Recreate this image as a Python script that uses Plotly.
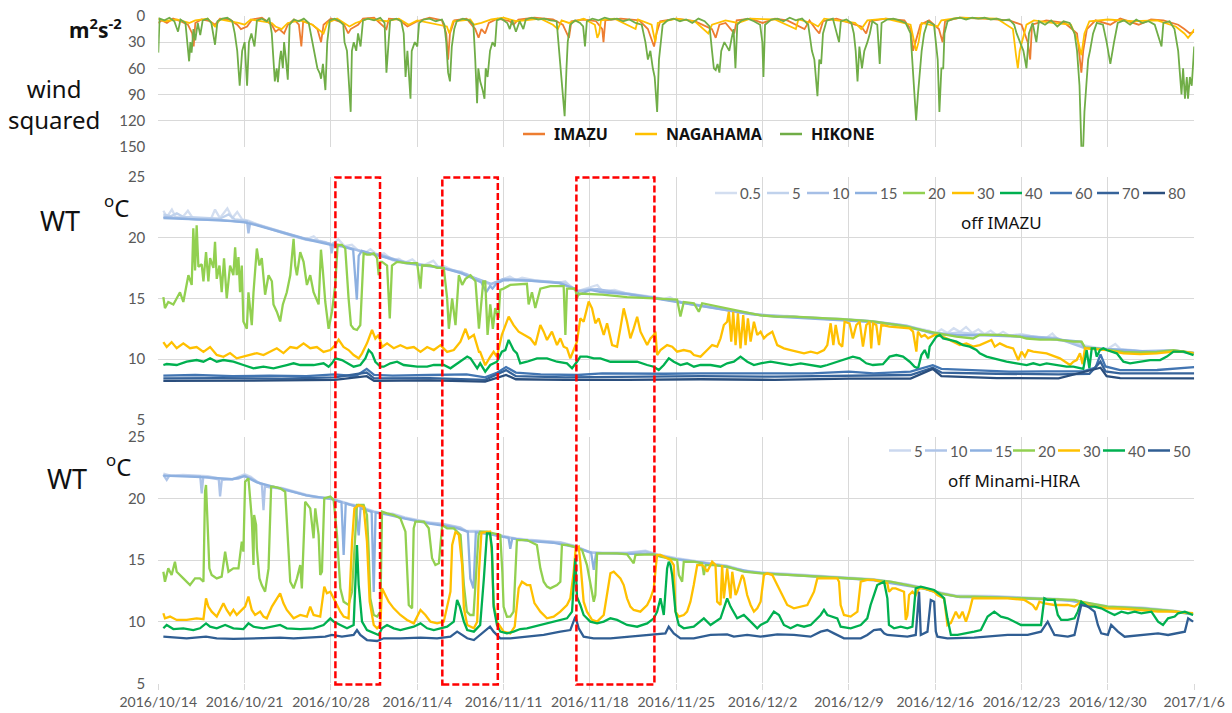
import pandas as pd
import plotly.graph_objects as go

W, H = 1232, 713
START = pd.Timestamp("2016-10-14")
END = pd.Timestamp("2017-01-06")

# ---------------------------------------------------------------------------
# Wind squared (m2 s-2), (days since 2016/10/14 00:00, value)
# ---------------------------------------------------------------------------
IMAZU = [(0.0, 8), (0.3, 5), (0.7, 8), (1.2, 3), (1.8, 6), (2.4, 10), (2.75, 20), (2.87, 35), (3.0, 8), (3.5, 4),
         (4.2, 6), (4.6, 10), (5.0, 3), (5.8, 4), (6.4, 10), (6.7, 15), (7.2, 12), (7.6, 4), (8.4, 2), (9.2, 10),
         (9.5, 18), (9.8, 15), (10.2, 20), (10.5, 10), (11.0, 4), (11.4, 10), (11.6, 35), (11.75, 6), (12.5, 10),
         (12.9, 15), (13.2, 30), (13.4, 10), (14.0, 3), (15.0, 8), (15.4, 20), (15.6, 15), (16.2, 10), (16.6, 3),
         (17.5, 2), (18.5, 15), (18.7, 3), (19.5, 4), (20.2, 12), (20.5, 10), (21.0, 6), (22.0, 2), (23.0, 5),
         (23.35, 20), (23.5, 50), (23.65, 20), (24.0, 5), (25.0, 3), (25.7, 15), (25.97, 25), (26.2, 15), (26.5, 20),
         (26.8, 8), (27.5, 3), (28.5, 6), (28.8, 10), (29.2, 4), (30.5, 2), (32.0, 4), (32.8, 10), (33.3, 25),
         (33.5, 6), (34.5, 4), (35.5, 6), (36.0, 15), (36.1, 30), (36.25, 5), (37.5, 3), (39.0, 5), (39.7, 15),
         (40.2, 35), (40.4, 20), (40.7, 6), (42.0, 3), (43.5, 6), (44.9, 15), (45.2, 25), (45.5, 10), (46.0, 8),
         (46.7, 20), (46.9, 5), (48.0, 3), (49.0, 8), (50.0, 3), (51.0, 5), (52.4, 15), (52.8, 5), (53.3, 15),
         (53.6, 20), (53.9, 6), (55.0, 3), (56.5, 10), (57.0, 12), (57.4, 20), (57.7, 6), (59.0, 3), (60.5, 5),
         (61.0, 15), (61.2, 40), (61.5, 25), (61.8, 10), (62.5, 5), (63.3, 15), (63.6, 30), (63.8, 6), (65.0, 2),
         (67.0, 3), (69.0, 5), (70.0, 10), (70.5, 30), (70.7, 50), (70.85, 10), (72.0, 5), (73.5, 8), (74.5, 20),
         (74.85, 65), (75.0, 40), (75.3, 15), (76.0, 5), (77.2, 10), (78.0, 3), (79.5, 10), (80.5, 4), (81.5, 5),
         (82.7, 10), (83.2, 15), (83.65, 20), (84.0, 18)]

NAGAHAMA = [(0.0, 3), (0.5, 6), (1.5, 4), (2.5, 8), (3.0, 5), (4.0, 3), (4.6, 12), (5.0, 4), (6.5, 8), (7.0, 10),
            (7.5, 4), (9.2, 8), (9.5, 12), (10.0, 15), (10.5, 8), (11.5, 5), (12.5, 10), (13.0, 15), (13.4, 20),
            (13.7, 8), (14.5, 3), (15.5, 12), (16.0, 8), (17.0, 3), (18.5, 6), (19.5, 3), (20.3, 10), (21.0, 5),
            (23.4, 12), (23.6, 20), (23.9, 6), (25.3, 4), (25.6, 10), (26.2, 8), (27.0, 4), (28.0, 2), (29.0, 6),
            (31.0, 3), (32.0, 10), (32.4, 15), (32.7, 5), (33.3, 8), (34.5, 3), (35.4, 10), (35.6, 25), (35.75, 20),
            (35.9, 5), (37.0, 3), (38.7, 15), (38.9, 4), (40.0, 10), (40.3, 30), (40.5, 8), (42.0, 3), (43.5, 6),
            (44.6, 20), (44.9, 10), (46.0, 5), (47.0, 8), (48.0, 3), (50.0, 4), (51.7, 15), (51.9, 4), (53.0, 8),
            (53.5, 12), (54.0, 3), (56.5, 8), (57.0, 15), (57.5, 5), (59.0, 3), (61.0, 10), (61.45, 40), (61.65, 30),
            (61.9, 8), (63.2, 12), (63.5, 5), (65.0, 2), (68.0, 3), (69.3, 15), (69.55, 45), (69.7, 60), (69.85, 40),
            (70.1, 25), (70.4, 10), (71.0, 5), (72.5, 8), (74.0, 10), (74.6, 30), (74.85, 45), (75.1, 20), (75.5, 6),
            (77.0, 4), (79.0, 6), (81.0, 5), (82.5, 12), (83.2, 20), (83.5, 25), (83.8, 20), (84.0, 15)]

HIKONE = [(0.0, 42), (0.1, 3), (0.5, 5), (0.9, 2), (1.3, 6), (1.6, 18), (1.8, 4), (2.2, 8), (2.5, 52), (2.6, 30),
          (2.7, 42), (2.85, 15), (3.0, 28), (3.2, 8), (3.4, 22), (3.6, 5), (4.0, 3), (4.3, 8), (4.6, 33), (4.8, 6),
          (5.2, 3), (5.6, 2), (6.0, 6), (6.2, 20), (6.4, 40), (6.6, 80), (6.8, 40), (7.0, 30), (7.2, 80), (7.35, 30),
          (7.55, 20), (7.8, 35), (8.0, 5), (8.4, 3), (8.8, 6), (9.0, 2), (9.2, 20), (9.35, 55), (9.45, 75), (9.6, 60),
          (9.7, 76), (9.85, 50), (9.95, 40), (10.1, 60), (10.2, 30), (10.35, 50), (10.5, 73), (10.65, 10), (11.0, 4),
          (11.4, 6), (11.8, 3), (12.2, 8), (12.5, 30), (12.65, 45), (12.9, 60), (13.1, 66), (13.2, 72), (13.35, 55),
          (13.55, 85), (13.7, 30), (13.9, 5), (14.3, 3), (14.7, 6), (15.0, 10), (15.1, 30), (15.3, 40), (15.4, 60),
          (15.6, 110), (15.7, 40), (15.85, 30), (16.05, 40), (16.2, 20), (16.4, 35), (16.6, 5), (17.0, 3), (17.5, 5),
          (18.0, 2), (18.35, 8), (18.5, 65), (18.65, 30), (18.8, 5), (19.3, 3), (19.7, 6), (19.9, 20), (20.05, 70),
          (20.2, 40), (20.45, 95), (20.55, 40), (20.8, 30), (21.0, 35), (21.15, 8), (21.5, 4), (22.0, 3), (22.5, 6),
          (23.0, 4), (23.2, 10), (23.35, 30), (23.5, 65), (23.65, 75), (23.8, 35), (24.0, 15), (24.2, 6), (24.7, 3),
          (25.2, 5), (25.55, 10), (25.7, 50), (25.85, 100), (25.95, 60), (26.1, 75), (26.3, 85), (26.45, 95),
          (26.55, 60), (26.7, 70), (26.9, 40), (27.1, 30), (27.3, 35), (27.45, 5), (27.8, 3), (28.3, 8), (28.5, 15),
          (28.7, 5), (29.0, 18), (29.3, 6), (29.6, 15), (29.8, 4), (30.3, 2), (30.8, 4), (31.3, 3), (31.8, 5),
          (32.3, 6), (32.5, 40), (32.65, 60), (32.8, 95), (32.95, 115), (33.1, 60), (33.2, 30), (33.4, 10),
          (33.8, 5), (34.2, 8), (34.45, 12), (34.6, 35), (34.75, 6), (35.2, 3), (35.7, 5), (36.2, 2), (36.7, 4),
          (37.2, 3), (37.7, 6), (38.2, 4), (38.7, 8), (39.2, 10), (39.5, 30), (39.7, 50), (39.9, 40), (40.1, 60),
          (40.25, 70), (40.45, 110), (40.6, 50), (40.75, 30), (40.9, 10), (41.3, 5), (41.8, 3), (42.3, 6), (42.8, 4),
          (43.3, 8), (43.8, 3), (44.3, 6), (44.7, 12), (44.9, 40), (45.05, 60), (45.2, 62), (45.35, 55), (45.5, 65),
          (45.65, 40), (45.9, 30), (46.3, 40), (46.5, 25), (46.65, 15), (46.8, 60), (46.95, 10), (47.3, 5),
          (47.8, 3), (48.3, 6), (48.8, 10), (48.98, 30), (49.07, 70), (49.2, 10), (49.7, 4), (50.2, 3), (50.7, 6),
          (51.2, 2), (51.7, 5), (52.2, 3), (52.7, 10), (53.0, 40), (53.2, 50), (53.45, 92), (53.6, 50), (53.75, 55),
          (53.9, 20), (54.2, 5), (54.7, 3), (55.2, 30), (55.35, 6), (55.8, 4), (56.2, 8), (56.4, 20), (56.55, 40),
          (56.7, 75), (56.85, 35), (57.06, 60), (57.25, 40), (57.5, 30), (57.7, 20), (57.9, 6), (58.3, 10),
          (58.5, 55), (58.65, 8), (59.1, 4), (59.6, 3), (60.1, 5), (60.6, 8), (61.0, 20), (61.15, 50), (61.3, 80),
          (61.45, 120), (61.6, 90), (61.75, 60), (61.9, 40), (62.1, 20), (62.4, 6), (62.9, 10), (63.2, 50),
          (63.34, 110), (63.5, 60), (63.65, 60), (63.75, 20), (64.0, 6), (64.5, 3), (65.0, 2), (65.5, 4), (66.0, 2),
          (66.5, 3), (67.0, 2), (67.5, 4), (68.0, 3), (68.5, 5), (69.0, 4), (69.4, 10), (69.6, 20), (69.9, 30),
          (70.15, 40), (70.4, 60), (70.6, 20), (70.9, 8), (71.2, 30), (71.4, 6), (71.9, 10), (72.4, 5), (72.9, 12),
          (73.4, 6), (73.9, 8), (74.3, 20), (74.5, 40), (74.7, 80), (74.85, 150), (75.0, 150), (75.1, 110),
          (75.25, 80), (75.4, 50), (75.55, 40), (75.8, 20), (76.1, 8), (76.6, 10), (76.9, 30), (77.2, 55),
          (77.5, 30), (77.8, 8), (78.3, 5), (78.8, 10), (79.3, 4), (79.8, 8), (80.3, 6), (80.8, 10), (81.35, 35),
          (81.5, 8), (82.0, 6), (82.4, 15), (82.7, 40), (82.97, 90), (83.1, 60), (83.25, 95), (83.4, 70),
          (83.5, 95), (83.65, 70), (83.8, 80), (84.0, 35)]

# ---------------------------------------------------------------------------
# Water temperature off IMAZU (deg C) by depth (m)
# ---------------------------------------------------------------------------
IMZ_05 = [(0.41, 22.2), (0.7, 21.7), (1.1, 22.3), (1.4, 21.7), (2.0, 21.7), (2.4, 22.2), (2.8, 21.6), (3.5, 21.6),
          (4.3, 21.6), (4.6, 22.3), (5.0, 21.6), (5.6, 22.4), (6.0, 21.6), (6.4, 22.1), (6.8, 21.5), (7.3, 21.4),
          (8.0, 21.1), (9.0, 20.8), (10.0, 20.45), (11.0, 20.15), (12.0, 19.85), (12.6, 20.1), (13.0, 19.75),
          (13.5, 19.65), (14.0, 19.4), (14.6, 19.85), (15.1, 19.3), (15.7, 19.4), (16.2, 18.95), (16.7, 18.7),
          (17.2, 19.05), (17.8, 18.55), (18.3, 18.7), (19.0, 18.15), (19.5, 18.25), (20.0, 17.95), (20.6, 18.2),
          (21.0, 17.85), (21.6, 17.75), (22.3, 18.1), (22.7, 17.6), (23.2, 17.65), (24.0, 17.25), (24.6, 17.2),
          (25.0, 16.85), (25.5, 16.75), (26.0, 16.5), (26.5, 16.3), (27.0, 16.1), (27.5, 16.4), (28.0, 16.6),
          (28.5, 16.8), (29.0, 16.5), (29.5, 16.7), (30.5, 16.5), (31.5, 16.4), (32.5, 16.3), (33.0, 16.4),
          (33.5, 15.9), (34.0, 15.6), (34.5, 15.75), (35.0, 15.9), (35.6, 16.1), (36.0, 15.6), (37.0, 15.7),
          (38.0, 15.4), (39.0, 15.3), (40.0, 15.15), (41.0, 14.95), (41.5, 15.1), (42.0, 14.8), (43.0, 14.55),
          (44.0, 14.45), (45.0, 14.25), (46.0, 14.05), (47.0, 13.85), (48.0, 13.75), (49.0, 13.65), (50.0, 13.55),
          (51.0, 13.55), (52.0, 13.45), (53.0, 13.45), (54.0, 13.35), (55.0, 13.35), (56.0, 13.25), (57.0, 13.15),
          (58.0, 13.05), (59.0, 12.95), (60.0, 12.85), (61.0, 12.65), (62.0, 12.45), (62.5, 12.35), (63.0, 12.1),
          (63.5, 12.45), (64.0, 12.15), (64.5, 12.55), (65.0, 12.25), (65.5, 12.65), (66.0, 12.15), (66.5, 12.45),
          (67.0, 12.05), (67.5, 12.35), (68.0, 11.95), (68.5, 12.25), (69.0, 11.95), (70.0, 12.05), (71.0, 11.85),
          (72.0, 11.75), (72.5, 12.1), (73.0, 11.55), (74.0, 11.45), (75.0, 11.15), (76.0, 10.95), (77.0, 10.85),
          (77.6, 11.25), (78.0, 10.85), (79.0, 10.75), (80.0, 10.65), (81.0, 10.65), (82.0, 10.75), (83.0, 10.65),
          (84.0, 10.55)]

IMZ_5 = [(0.41, 21.9), (1.0, 21.75), (1.5, 22.0), (2.0, 21.7), (3.0, 21.65), (4.0, 21.6), (5.0, 21.55), (5.7, 21.9),
         (6.2, 21.5), (7.0, 21.4), (8.0, 21.05), (9.0, 20.75), (10.0, 20.4), (11.0, 20.1), (12.0, 19.8), (13.0, 19.7),
         (14.0, 19.45), (15.0, 19.3), (16.0, 19.0), (17.0, 18.75), (18.0, 18.55), (19.0, 18.15), (20.0, 17.95),
         (21.0, 17.8), (22.0, 17.7), (23.0, 17.55), (24.0, 17.25), (25.0, 16.9), (26.0, 16.5), (27.0, 16.15),
         (28.0, 16.55), (29.0, 16.5), (30.0, 16.5), (31.0, 16.4), (32.0, 16.35), (33.0, 16.3), (34.0, 15.6),
         (35.0, 15.8), (36.0, 15.6), (37.0, 15.6), (38.0, 15.4), (39.0, 15.25), (40.0, 15.1), (41.0, 14.95),
         (42.0, 14.75), (43.0, 14.55), (44.0, 14.4), (45.0, 14.2), (46.0, 14.05), (47.0, 13.85), (48.0, 13.7),
         (49.0, 13.6), (50.0, 13.55), (52.0, 13.45), (54.0, 13.35), (56.0, 13.25), (58.0, 13.05), (60.0, 12.8),
         (61.0, 12.6), (62.0, 12.4), (63.0, 12.15), (64.0, 12.1), (65.0, 12.2), (66.0, 12.1), (67.0, 12.05),
         (68.0, 12.0), (69.0, 11.95), (70.0, 12.0), (71.0, 11.85), (72.0, 11.75), (73.0, 11.6), (74.0, 11.45),
         (75.0, 11.05), (76.0, 10.9), (77.0, 10.8), (78.0, 10.8), (79.0, 10.7), (80.0, 10.6), (81.0, 10.6),
         (82.0, 10.7), (83.0, 10.6), (84.0, 10.5)]

IMZ_10 = [(0.41, 21.7), (1.5, 21.6), (3.0, 21.5), (5.0, 21.45), (6.5, 21.3), (7.2, 21.3), (7.31, 20.35), (7.45, 21.2),
          (8.5, 20.9), (10.4, 20.3), (12.0, 19.9), (13.5, 19.6), (13.95, 19.5), (14.05, 18.7), (14.2, 19.5),
          (15.0, 19.3), (16.0, 19.0), (17.0, 18.7), (18.0, 18.6), (19.5, 18.1), (21.0, 17.8), (22.5, 17.6),
          (24.0, 17.3), (25.0, 17.0), (25.6, 16.7), (27.0, 16.2), (28.0, 16.6), (30.0, 16.5), (32.6, 16.3),
          (34.0, 15.6), (35.6, 15.75), (38.0, 15.4), (40.2, 15.05), (42.1, 14.75), (43.4, 14.5), (46.1, 14.05),
          (48.8, 13.65), (51.5, 13.5), (54.3, 13.3), (57.0, 13.2), (58.0, 13.1), (60.7, 12.75), (62.8, 12.15),
          (64.7, 12.0), (67.4, 12.0), (70.1, 11.9), (72.8, 11.75), (75.0, 10.95), (76.9, 10.8), (79.6, 10.65),
          (82.3, 10.75), (84.0, 10.5)]

IMZ_15 = [(0.41, 21.6), (2.0, 21.55), (4.0, 21.45), (6.0, 21.35), (7.0, 21.25), (8.0, 21.0), (10.0, 20.4),
          (12.0, 19.85), (14.0, 19.4), (15.0, 19.25), (15.8, 19.0), (15.95, 17.0), (16.1, 14.9), (16.25, 18.5),
          (16.5, 18.9), (17.5, 18.6), (18.5, 18.35), (20.0, 17.9), (21.5, 17.7), (23.0, 17.5), (24.5, 17.1),
          (25.6, 16.6), (26.2, 16.3), (26.6, 15.5), (26.9, 16.0), (27.1, 15.8), (27.4, 16.2), (28.0, 16.5),
          (30.0, 16.45), (32.5, 16.25), (33.8, 15.8), (34.1, 15.3), (35.0, 15.7), (36.0, 15.5), (38.0, 15.35),
          (40.0, 15.05), (42.0, 14.7), (44.0, 14.35), (46.0, 14.0), (48.0, 13.7), (50.0, 13.5), (52.0, 13.4),
          (54.0, 13.3), (56.0, 13.2), (58.0, 13.05), (60.0, 12.8), (62.0, 12.35), (63.0, 12.05), (65.0, 11.95),
          (67.0, 11.95), (69.0, 11.9), (71.0, 11.8), (73.0, 11.6), (74.8, 11.45), (75.1, 10.95), (77.0, 10.8),
          (79.0, 10.7), (81.0, 10.6), (83.0, 10.6), (84.0, 10.5)]

IMZ_20 = [(0.41, 15.1), (0.54, 14.2), (0.81, 14.7), (1.22, 14.5), (1.76, 15.5), (2.03, 14.7), (2.44, 16.9),
          (2.71, 16.1), (2.84, 20.75), (2.98, 17.3), (3.11, 21.0), (3.25, 17.6), (3.52, 17.8), (3.66, 16.4),
          (3.87, 18.8), (4.06, 16.4), (4.2, 18.3), (4.47, 17.5), (4.6, 19.65), (4.74, 16.6), (4.96, 17.7),
          (5.14, 15.5), (5.33, 18.3), (5.55, 15.0), (5.82, 17.7), (6.09, 16.9), (6.23, 19.2), (6.36, 16.9),
          (6.5, 18.4), (6.63, 15.5), (6.77, 17.7), (6.9, 13.1), (7.18, 12.5), (7.31, 15.5), (7.58, 12.8),
          (7.72, 15.5), (7.99, 19.1), (8.2, 17.7), (8.39, 18.3), (8.66, 15.3), (8.94, 16.9), (9.21, 16.4),
          (9.34, 14.5), (9.61, 13.9), (9.88, 13.1), (10.1, 14.5), (10.42, 15.5), (10.7, 16.9), (10.97, 19.9),
          (11.1, 17.7), (11.24, 16.9), (11.51, 18.8), (11.78, 18.0), (12.05, 16.1), (12.32, 16.9), (12.59, 15.5),
          (13.0, 14.5), (13.19, 19.0), (13.35, 17.2), (13.54, 14.7), (13.81, 12.5), (14.08, 13.9), (14.35, 16.1),
          (14.54, 19.4), (14.89, 19.4), (15.16, 19.1), (15.43, 15.0), (15.62, 12.8), (15.84, 12.5), (16.11, 12.4),
          (16.38, 12.8), (16.65, 18.7), (16.92, 18.6), (17.19, 18.6), (17.47, 18.7), (17.74, 18.3), (17.87, 16.9),
          (18.01, 18.0), (18.14, 18.0), (18.55, 17.7), (18.77, 13.35), (18.95, 17.7), (19.36, 18.0), (20.17, 17.9),
          (20.99, 17.9), (21.26, 15.8), (21.39, 17.7), (22.07, 17.7), (22.61, 17.5), (23.15, 17.5), (23.42, 15.0),
          (23.56, 12.5), (23.83, 15.0), (24.1, 12.8), (24.37, 16.9), (24.64, 16.1), (24.91, 16.6), (25.32, 16.9),
          (25.72, 16.4), (26.0, 12.5), (26.35, 16.4), (26.51, 16.4), (26.7, 12.0), (26.92, 14.5), (27.13, 12.5),
          (27.32, 14.2), (27.59, 13.4), (27.73, 15.7), (28.0, 15.8), (28.54, 16.1), (29.89, 16.2), (30.03, 14.5),
          (30.3, 15.5), (30.57, 14.2), (30.98, 15.8), (31.79, 16.0), (32.87, 16.0), (33.01, 12.0), (33.14, 15.8),
          (33.82, 15.8), (33.95, 15.0), (34.09, 15.4), (36.0, 15.3), (38.01, 15.1), (40.18, 15.0), (42.07, 14.9),
          (42.34, 13.5), (42.61, 14.7), (43.43, 14.6), (43.83, 13.9), (44.1, 14.6), (44.78, 14.45), (46.13, 14.2),
          (47.49, 13.9), (48.84, 13.6), (50.19, 13.5), (51.55, 13.5), (54.25, 13.35), (55.5, 13.3), (57.95, 13.1),
          (60.66, 12.7), (61.47, 12.5), (62.28, 12.3), (63.37, 12.1), (64.72, 11.85), (66.07, 11.7), (66.61, 12.0),
          (68.24, 12.0), (69.86, 11.85), (70.41, 11.7), (71.49, 11.6), (72.84, 11.6), (74.2, 11.45), (74.87, 11.45),
          (75.14, 10.95), (75.82, 10.9), (76.9, 10.75), (78.26, 10.6), (79.61, 10.55), (80.97, 10.6), (82.32, 10.75),
          (83.13, 10.6), (83.95, 10.5)]

IMZ_30 = [(0.41, 11.4), (0.68, 11.0), (1.08, 11.4), (1.49, 10.9), (2.03, 11.3), (2.57, 10.9), (3.11, 11.0),
          (3.66, 10.6), (4.2, 11.0), (4.74, 10.35), (5.28, 10.2), (5.82, 10.5), (6.36, 10.07), (6.9, 10.2),
          (7.45, 10.34), (7.99, 10.5), (8.53, 10.34), (9.07, 10.6), (9.61, 10.9), (10.15, 10.5), (10.7, 11.0),
          (11.24, 10.9), (11.78, 11.3), (12.32, 10.9), (12.86, 11.0), (13.4, 10.6), (13.95, 10.75), (14.35, 11.15),
          (14.62, 11.6), (15.02, 11.0), (15.43, 10.75), (15.84, 10.34), (16.25, 10.07), (16.52, 10.48),
          (16.92, 11.3), (17.33, 12.4), (17.6, 11.7), (17.87, 12.0), (18.14, 11.0), (18.55, 11.3), (19.09, 10.9),
          (19.63, 11.15), (20.17, 10.9), (20.72, 11.0), (21.26, 10.6), (21.8, 11.0), (22.34, 10.75), (22.88, 11.15),
          (23.42, 10.6), (23.96, 10.75), (24.5, 11.44), (24.91, 12.5), (25.18, 11.7), (25.59, 12.0), (26.0, 10.6),
          (26.1, 10.6), (26.51, 9.5), (26.92, 10.2), (27.19, 10.6), (27.46, 10.2), (27.86, 12.0), (28.41, 13.5),
          (28.81, 12.8), (29.22, 12.26), (29.62, 12.0), (30.17, 11.7), (30.57, 11.16), (30.98, 12.81),
          (31.25, 12.26), (31.52, 11.58), (31.92, 12.26), (32.33, 11.16), (32.6, 11.71), (32.87, 11.03),
          (33.14, 10.89), (33.41, 10.07), (33.68, 10.75), (33.95, 11.44), (34.22, 13.36), (34.49, 13.08),
          (34.9, 14.73), (35.17, 14.18), (35.44, 12.95), (35.71, 13.36), (36.12, 11.99), (36.39, 12.95),
          (36.8, 11.16), (37.2, 11.03), (37.47, 12.53), (37.74, 14.18), (38.01, 13.08), (38.28, 11.71),
          (38.55, 12.53), (38.83, 13.49), (39.1, 12.26), (39.37, 11.71), (39.64, 11.16), (39.91, 11.71),
          (40.18, 11.99), (40.31, 12.26), (40.45, 10.34), (40.72, 10.75), (41.26, 11.16), (41.67, 11.03),
          (42.07, 10.62), (42.61, 10.75), (43.16, 10.62), (43.43, 10.34), (43.97, 10.21), (44.51, 10.75),
          (44.91, 11.16), (45.32, 11.03), (45.59, 11.71), (45.86, 12.81), (46.13, 13.08), (46.27, 13.9),
          (46.46, 11.44), (46.62, 13.9), (46.81, 11.16), (47.0, 13.77), (47.21, 10.89), (47.43, 13.63),
          (47.62, 11.16), (47.81, 13.36), (48.03, 11.44), (48.3, 13.08), (48.57, 11.99), (48.84, 12.26),
          (49.11, 11.71), (49.38, 11.99), (49.79, 12.26), (50.19, 11.16), (50.73, 10.89), (51.27, 10.75),
          (51.82, 10.62), (52.36, 10.48), (52.9, 10.62), (53.44, 10.48), (53.98, 10.75), (54.25, 11.16),
          (54.52, 12.95), (54.74, 11.16), (54.93, 12.81), (55.2, 11.3), (55.46, 11.03), (55.65, 13.08),
          (56.05, 12.95), (56.32, 11.71), (56.6, 12.81), (56.87, 13.08), (57.14, 11.03), (57.41, 12.81),
          (57.68, 13.08), (57.81, 10.89), (57.95, 12.95), (58.22, 12.81), (58.44, 11.16), (58.63, 12.81),
          (59.3, 12.67), (60.12, 12.6), (60.93, 12.53), (61.2, 12.26), (61.47, 10.62), (61.6, 12.26),
          (61.88, 11.85), (62.15, 11.99), (62.42, 11.71), (62.96, 11.99), (63.37, 11.93), (63.91, 11.71),
          (64.45, 11.44), (64.99, 11.16), (65.53, 11.3), (66.07, 11.03), (66.61, 11.16), (67.29, 11.44),
          (67.56, 11.58), (67.83, 11.03), (68.24, 11.3), (68.78, 11.03), (69.32, 10.89), (69.73, 9.93),
          (70.0, 10.62), (70.27, 10.21), (70.54, 10.75), (70.95, 10.62), (72.03, 10.48), (73.11, 10.07),
          (73.65, 9.66), (73.93, 9.52), (74.2, 9.79), (74.47, 9.93), (74.74, 10.48), (74.95, 9.59), (75.14, 10.89),
          (75.82, 10.85), (76.9, 10.75), (78.26, 10.48), (79.61, 10.41), (80.97, 10.48), (82.32, 10.62),
          (83.13, 10.62), (83.95, 10.5)]

IMZ_40 = [(0.41, 9.52), (0.68, 9.6), (1.49, 9.52), (2.3, 9.79), (3.11, 9.93), (3.66, 9.79), (4.2, 10.07),
          (4.74, 9.79), (5.28, 9.93), (6.09, 9.79), (6.9, 9.52), (7.72, 9.25), (8.53, 9.38), (9.34, 9.25),
          (10.42, 9.52), (10.97, 9.66), (11.51, 9.52), (12.59, 9.52), (13.4, 9.66), (13.81, 9.38), (14.08, 9.66),
          (14.35, 10.07), (14.89, 9.93), (15.84, 9.38), (16.38, 9.52), (16.79, 10.07), (17.06, 10.75),
          (17.33, 10.48), (17.6, 9.79), (18.01, 9.38), (18.28, 9.38), (18.82, 9.66), (19.36, 9.79), (19.9, 9.52),
          (20.99, 9.38), (21.8, 9.38), (22.34, 9.52), (23.15, 9.52), (23.69, 9.25), (24.5, 9.79), (25.05, 10.21),
          (25.32, 10.07), (25.86, 9.25), (26.1, 9.66), (26.51, 8.97), (26.92, 9.52), (27.46, 9.79), (27.86, 10.62),
          (28.14, 10.75), (28.41, 11.58), (28.81, 10.75), (29.08, 10.48), (29.35, 9.66), (29.89, 9.79),
          (30.71, 10.07), (31.52, 10.07), (32.33, 9.79), (33.14, 9.66), (33.55, 9.25), (33.95, 9.79),
          (34.22, 10.21), (34.77, 10.21), (35.31, 10.07), (35.85, 10.07), (36.66, 9.79), (37.47, 9.79),
          (38.83, 9.79), (39.64, 9.52), (40.18, 9.38), (40.58, 9.11), (40.99, 9.52), (41.4, 10.07), (41.8, 9.79),
          (42.34, 9.52), (42.88, 9.66), (43.43, 9.38), (43.97, 9.52), (44.78, 9.52), (45.59, 9.38), (46.13, 9.66),
          (46.67, 9.79), (47.21, 10.21), (47.76, 9.79), (48.3, 9.52), (48.84, 9.66), (49.65, 9.79), (50.46, 9.66),
          (51.27, 9.52), (52.09, 9.66), (52.9, 9.52), (53.71, 9.38), (54.25, 9.52), (55.06, 9.79), (55.88, 10.07),
          (56.32, 10.21), (56.87, 10.07), (57.41, 9.66), (57.95, 9.52), (58.76, 9.59), (59.3, 10.21),
          (59.85, 10.34), (60.39, 10.21), (60.93, 9.79), (61.33, 9.38), (61.61, 9.25), (61.88, 10.34),
          (62.15, 10.75), (62.42, 10.07), (62.55, 11.03), (62.82, 11.44), (63.09, 11.85), (63.37, 11.99),
          (63.64, 11.71), (64.18, 11.58), (64.72, 11.44), (65.26, 11.16), (65.8, 11.03), (66.34, 10.75),
          (66.61, 10.48), (67.16, 10.21), (67.7, 10.07), (68.24, 9.93), (68.78, 9.79), (69.59, 9.66), (70.41, 9.52),
          (70.95, 9.66), (71.49, 9.52), (72.03, 9.66), (72.84, 9.52), (73.65, 9.38), (74.2, 9.38), (74.74, 9.25),
          (75.01, 9.2), (75.28, 10.75), (75.5, 9.25), (75.69, 10.89), (75.96, 10.89), (76.09, 10.21),
          (76.36, 10.75), (76.63, 10.89), (76.9, 10.75), (77.72, 10.48), (78.26, 9.79), (78.8, 9.66), (79.61, 9.79),
          (80.43, 9.93), (81.24, 9.93), (81.78, 10.21), (82.32, 10.62), (83.13, 10.62), (83.95, 10.34)]

IMZ_60 = [(0.41, 8.64), (3.0, 8.7), (6.0, 8.6), (9.0, 8.64), (12.0, 8.6), (14.3, 8.75), (16.0, 8.6), (16.9, 9.2),
          (17.5, 8.7), (19.0, 8.64), (22.0, 8.7), (25.0, 8.75), (26.5, 8.5), (27.5, 8.9), (28.2, 9.35), (29.0, 8.9),
          (31.0, 8.75), (34.0, 8.7), (36.0, 8.84), (39.0, 8.8), (41.0, 8.8), (44.0, 8.84), (47.0, 8.84), (50.0, 8.8),
          (53.0, 8.84), (56.0, 8.97), (58.0, 8.84), (61.0, 8.97), (62.8, 9.5), (63.5, 9.2), (66.0, 9.11),
          (69.0, 8.97), (72.0, 9.0), (75.0, 9.0), (76.0, 9.3), (76.4, 10.4), (76.8, 9.4), (78.0, 9.1), (81.0, 9.11),
          (84.0, 9.35)]

IMZ_70 = [(0.41, 8.42), (5.0, 8.45), (10.0, 8.4), (14.3, 8.5), (16.9, 8.9), (17.5, 8.42), (22.0, 8.45), (26.5, 8.3),
          (28.2, 9.1), (29.0, 8.6), (33.0, 8.5), (38.0, 8.56), (44.0, 8.6), (50.0, 8.56), (56.0, 8.64), (61.0, 8.7),
          (62.8, 9.3), (63.5, 8.9), (68.0, 8.8), (73.0, 8.75), (75.5, 8.8), (76.4, 9.8), (76.8, 9.0), (78.0, 8.84),
          (84.0, 8.84)]

IMZ_80 = [(0.41, 8.21), (5.0, 8.21), (10.0, 8.25), (14.3, 8.3), (16.9, 8.6), (17.5, 8.21), (22.0, 8.25),
          (26.5, 8.15), (28.2, 8.7), (29.0, 8.35), (33.0, 8.3), (38.0, 8.3), (44.0, 8.35), (50.0, 8.3), (56.0, 8.4),
          (61.0, 8.4), (62.8, 9.2), (63.5, 8.6), (68.0, 8.45), (73.0, 8.42), (76.4, 9.3), (76.9, 8.6), (78.0, 8.45),
          (84.0, 8.42)]

# ---------------------------------------------------------------------------
# Water temperature off Minami-HIRA (deg C) by depth (m)
# ---------------------------------------------------------------------------
HIRA_5 = [(0.41, 22.0), (1.0, 21.85), (2.0, 21.9), (3.0, 21.85), (4.0, 21.8), (5.0, 21.6), (6.0, 21.55), (7.0, 21.95),
          (7.5, 21.75), (8.0, 21.35), (9.0, 20.95), (10.0, 20.85), (11.0, 20.55), (12.0, 20.3), (13.0, 20.1),
          (14.0, 20.05), (14.5, 19.85), (15.5, 19.55), (16.5, 19.35), (17.0, 19.1), (17.5, 18.95), (18.2, 18.8),
          (19.0, 18.75), (20.0, 18.45), (21.0, 18.25), (22.0, 18.05), (23.0, 17.95), (24.0, 17.75), (24.5, 17.65),
          (25.0, 17.35), (26.0, 17.35), (27.0, 17.15), (28.0, 16.95), (29.0, 16.75), (30.0, 16.65), (31.0, 16.55),
          (32.6, 16.45), (33.8, 16.15), (34.5, 15.85), (35.0, 15.65), (36.0, 15.6), (38.0, 15.6), (39.5, 15.75),
          (40.5, 15.45), (42.0, 15.15), (43.5, 14.95), (45.0, 14.75), (46.1, 14.55), (47.5, 14.15), (48.8, 14.0),
          (51.5, 13.85), (54.3, 13.7), (57.0, 13.55), (58.0, 13.45), (60.7, 13.05), (62.1, 12.75), (63.5, 12.35),
          (64.8, 12.1), (67.5, 12.08), (71.0, 11.95), (73.0, 11.85), (74.5, 11.65), (77.0, 11.25), (79.7, 11.15),
          (82.4, 10.9), (83.9, 10.65)]

HIRA_10 = [(0.41, 21.9), (0.68, 21.5), (0.9, 21.85), (2.0, 21.84), (3.4, 21.8), (3.52, 20.4), (3.65, 21.75),
           (4.9, 21.55), (5.01, 20.15), (5.15, 21.5), (6.5, 21.6), (7.0, 21.85), (7.5, 21.65), (8.4, 21.1),
           (8.53, 19.05), (8.65, 21.0), (9.0, 20.9), (10.0, 20.8), (11.0, 20.5), (12.0, 20.25), (13.0, 20.05),
           (14.0, 19.95), (14.5, 19.8), (15.5, 19.5), (16.5, 19.3), (17.0, 19.05), (17.5, 18.9), (18.2, 18.75),
           (19.0, 18.7), (20.0, 18.4), (21.0, 18.2), (22.0, 18.0), (23.0, 17.9), (24.0, 17.7), (24.5, 17.6),
           (25.0, 17.3), (26.0, 17.3), (27.0, 17.1), (28.0, 16.9), (29.0, 16.7), (30.0, 16.6), (31.0, 16.5),
           (32.6, 16.4), (33.8, 16.1), (34.5, 15.8), (35.0, 15.6), (36.0, 15.55), (38.0, 15.55), (39.5, 15.7),
           (40.5, 15.4), (42.0, 15.1), (43.5, 14.9), (45.0, 14.7), (46.1, 14.5), (47.5, 14.1), (48.8, 13.95),
           (51.5, 13.8), (54.3, 13.65), (57.0, 13.5), (58.0, 13.4), (60.7, 13.0), (62.1, 12.7), (63.5, 12.3),
           (64.8, 12.05), (67.5, 12.03), (71.0, 11.9), (73.0, 11.8), (74.5, 11.6), (77.0, 11.2), (79.7, 11.1),
           (82.4, 10.85), (83.9, 10.6)]

HIRA_15 = [(0.41, 21.85), (2.0, 21.8), (4.0, 21.7), (6.0, 21.55), (7.0, 21.8), (8.0, 21.3), (10.0, 20.75),
           (12.0, 20.25), (14.0, 19.95), (14.85, 19.7), (15.03, 15.4), (15.2, 19.6), (16.0, 19.35), (16.15, 17.5),
           (16.25, 17.0), (16.4, 19.2), (17.3, 18.9), (17.47, 12.4), (17.62, 18.85), (18.5, 18.7), (20.0, 18.35),
           (22.0, 17.95), (24.0, 17.65), (25.1, 17.3), (25.3, 13.5), (25.56, 12.7), (25.75, 17.25), (27.0, 17.05),
           (28.4, 16.8), (28.54, 15.9), (28.7, 16.75), (30.0, 16.55), (32.0, 16.4), (33.8, 16.05), (35.1, 15.6),
           (35.31, 14.2), (35.5, 15.55), (38.0, 15.5), (40.0, 15.5), (42.0, 15.05), (44.0, 14.8), (46.0, 14.45),
           (48.0, 14.05), (50.0, 13.85), (52.0, 13.75), (54.0, 13.62), (56.0, 13.5), (58.0, 13.35), (60.0, 13.05),
           (62.0, 12.7), (63.5, 12.25), (65.0, 12.0), (68.0, 11.98), (71.0, 11.85), (74.0, 11.7), (77.0, 11.18),
           (80.0, 11.05), (82.4, 10.82), (83.9, 10.58)]

HIRA_20 = [(0.41, 14.05), (0.54, 13.24), (0.81, 14.32), (1.08, 13.78), (1.35, 14.86), (1.49, 14.05), (2.03, 13.51),
           (2.57, 12.97), (2.98, 13.51), (3.38, 13.51), (3.66, 13.24), (3.79, 20.54), (3.87, 21.08), (3.98, 18.38),
           (4.14, 14.32), (4.33, 13.78), (4.74, 13.51), (5.14, 13.65), (5.42, 15.68), (5.55, 14.86), (5.69, 14.05),
           (6.09, 14.32), (6.5, 14.32), (6.77, 16.49), (6.9, 15.68), (7.04, 21.35), (7.31, 21.62), (7.58, 18.38),
           (7.72, 14.59), (7.77, 18.65), (7.93, 17.84), (7.99, 15.95), (8.2, 13.51), (8.39, 12.97), (8.66, 12.43),
           (8.94, 14.32), (9.15, 20.95), (9.34, 20.95), (9.88, 20.81), (10.29, 20.54), (10.56, 15.14), (10.7, 13.24),
           (10.97, 12.7), (11.24, 13.51), (11.51, 14.59), (11.64, 12.7), (11.91, 19.73), (12.32, 19.19),
           (12.59, 16.76), (12.73, 19.19), (13.0, 17.03), (13.13, 13.78), (13.27, 14.05), (13.46, 20.0),
           (13.95, 20.14), (14.22, 19.86), (14.49, 17.03), (14.76, 12.7), (15.03, 11.62), (15.43, 11.35),
           (15.71, 12.43), (15.98, 17.84), (16.11, 19.46), (16.65, 19.46), (16.92, 18.65), (17.06, 15.68),
           (17.19, 11.89), (17.47, 10.54), (17.74, 10.41), (18.01, 10.81), (18.14, 18.92), (18.55, 18.78),
           (19.09, 18.65), (19.63, 18.38), (20.04, 17.3), (20.31, 11.35), (20.58, 11.08), (20.71, 17.57),
           (20.85, 18.11), (21.53, 18.11), (21.93, 17.57), (22.2, 15.14), (22.47, 14.59), (22.75, 14.73),
           (22.88, 16.49), (23.02, 17.84), (23.42, 17.57), (23.96, 17.57), (24.51, 17.03), (24.78, 12.97),
           (25.02, 10.81), (25.29, 10.54), (25.56, 10.54), (25.97, 17.03), (26.1, 17.3), (26.65, 17.3),
           (27.19, 17.16), (27.73, 17.03), (27.9, 14.0), (28.0, 11.2), (28.27, 10.4), (28.54, 10.41), (28.81, 10.81),
           (29.08, 16.62), (29.89, 16.62), (30.7, 16.22), (30.98, 14.32), (31.25, 13.24), (31.52, 12.84),
           (31.79, 12.7), (32.33, 12.97), (32.6, 13.24), (32.73, 16.22), (33.14, 16.22), (33.68, 16.08),
           (33.95, 15.95), (34.36, 15.81), (34.76, 14.59), (35.17, 12.43), (35.31, 11.62), (35.44, 12.16),
           (35.58, 15.54), (36.12, 15.54), (37.2, 15.54), (38.01, 15.46), (38.55, 14.73), (38.69, 15.41),
           (39.37, 15.41), (40.18, 15.46), (40.72, 15.27), (41.26, 15.14), (42.07, 15.0), (42.21, 13.78),
           (42.48, 13.24), (42.61, 14.86), (43.42, 14.86), (44.1, 14.73), (44.24, 13.78), (44.38, 14.59),
           (45.05, 14.59), (46.13, 14.46), (47.48, 14.05), (48.84, 13.92), (50.19, 13.85), (51.54, 13.78),
           (52.9, 13.7), (54.25, 13.65), (55.6, 13.55), (56.96, 13.46), (58.03, 13.38), (59.39, 13.24),
           (60.74, 12.97), (62.1, 12.7), (63.45, 12.3), (64.81, 12.03), (66.16, 12.03), (68.87, 11.96),
           (71.58, 11.89), (74.29, 11.76), (74.84, 11.62), (77.0, 11.22), (79.71, 11.08), (82.42, 10.85),
           (83.91, 10.61)]

HIRA_30 = [(0.41, 10.68), (0.54, 10.27), (0.95, 10.41), (1.49, 10.14), (2.3, 10.14), (3.11, 10.27), (3.66, 10.2),
           (3.87, 11.89), (4.06, 11.22), (4.33, 10.81), (4.74, 10.41), (5.28, 11.49), (5.55, 10.95), (5.82, 10.54),
           (6.09, 10.95), (6.36, 10.54), (6.63, 10.81), (7.04, 11.22), (7.31, 12.03), (7.58, 10.95), (7.85, 10.54),
           (8.26, 10.81), (8.53, 10.41), (8.8, 10.27), (9.21, 11.22), (9.48, 11.62), (9.88, 12.3), (10.15, 11.49),
           (10.42, 10.95), (10.97, 10.27), (11.51, 10.54), (12.05, 10.41), (12.32, 11.22), (12.59, 10.54),
           (13.13, 10.41), (13.46, 12.84), (13.67, 12.3), (13.95, 12.43), (14.22, 11.89), (14.49, 11.22),
           (14.76, 10.81), (15.03, 10.41), (15.43, 10.27), (15.71, 16.49), (15.9, 19.19), (16.25, 19.46),
           (16.65, 19.32), (16.92, 16.49), (17.14, 11.62), (17.47, 9.73), (17.74, 9.46), (18.01, 9.73),
           (18.14, 12.7), (18.41, 12.16), (18.68, 11.62), (19.09, 11.08), (19.63, 10.54), (20.17, 10.14),
           (20.72, 9.86), (21.26, 10.95), (21.66, 10.54), (22.07, 10.0), (22.61, 9.86), (23.15, 10.0),
           (23.69, 12.43), (23.83, 16.22), (24.1, 17.3), (24.37, 17.03), (24.64, 14.59), (24.78, 11.08),
           (25.05, 9.73), (25.59, 9.46), (25.86, 10.0), (26.0, 14.0), (26.2, 17.2), (26.9, 17.3), (27.05, 15.5),
           (27.19, 11.5), (27.46, 10.0), (28.0, 9.19), (28.54, 9.05), (28.9, 9.6), (29.22, 12.7), (29.49, 13.24),
           (29.89, 12.97), (30.16, 12.97), (30.5, 11.5), (30.98, 10.81), (31.52, 10.27), (32.06, 10.41),
           (32.6, 10.81), (33.14, 11.35), (33.41, 11.89), (33.68, 14.0), (33.85, 15.95), (34.09, 16.08),
           (34.22, 14.86), (34.49, 11.62), (34.76, 10.81), (35.17, 10.14), (35.58, 10.0), (36.12, 10.54),
           (36.39, 12.16), (36.66, 13.92), (36.93, 14.05), (37.2, 13.78), (37.47, 13.51), (37.74, 12.97),
           (38.01, 11.89), (38.28, 11.22), (38.55, 10.95), (39.09, 10.81), (39.64, 11.35), (39.91, 11.89),
           (40.18, 12.7), (40.35, 14.5), (40.45, 15.41), (40.72, 15.41), (41.26, 15.14), (41.53, 15.0),
           (41.8, 14.59), (41.94, 10.81), (42.21, 10.41), (42.61, 10.54), (42.88, 10.81), (43.15, 11.62),
           (43.42, 12.97), (43.7, 14.59), (44.1, 14.59), (44.24, 14.46), (44.51, 14.05), (44.64, 14.32),
           (44.91, 14.86), (45.18, 14.59), (45.32, 11.62), (45.59, 11.35), (45.72, 14.59), (45.86, 11.89),
           (46.13, 14.32), (46.4, 11.89), (46.54, 14.05), (46.81, 12.16), (46.94, 12.43), (47.35, 13.78),
           (47.48, 13.51), (47.75, 12.16), (48.03, 11.35), (48.3, 10.81), (48.57, 11.08), (48.84, 11.62),
           (49.11, 13.78), (49.38, 13.92), (49.79, 13.78), (50.06, 13.24), (50.46, 12.43), (51.0, 11.35),
           (51.54, 11.08), (52.09, 11.22), (52.63, 11.35), (53.17, 12.43), (53.44, 13.51), (53.71, 13.51),
           (54.25, 13.51), (55.06, 13.51), (55.2, 13.24), (55.33, 11.35), (55.6, 10.54), (56.14, 10.41),
           (56.69, 10.81), (56.8, 11.8), (56.96, 13.24), (57.49, 13.38), (58.03, 13.38), (58.57, 13.24),
           (59.12, 13.11), (59.25, 12.43), (59.52, 12.7), (59.79, 12.7), (60.2, 12.57), (60.47, 12.43),
           (60.61, 10.14), (60.74, 10.5), (60.88, 12.16), (61.15, 12.43), (61.42, 12.16), (61.69, 12.7),
           (62.1, 12.7), (62.5, 12.57), (62.91, 12.43), (63.18, 12.16), (63.45, 12.03), (63.72, 11.89),
           (63.99, 9.73), (64.27, 9.9), (64.67, 10.81), (64.94, 10.27), (65.21, 10.81), (65.49, 10.0),
           (65.76, 10.81), (66.03, 11.89), (66.16, 11.89), (67.52, 11.89), (68.87, 11.89), (70.23, 11.76),
           (70.91, 11.35), (71.18, 10.95), (71.45, 11.62), (71.85, 11.49), (72.67, 11.35), (73.75, 11.35),
           (74.29, 11.22), (74.84, 11.62), (75.38, 11.35), (75.92, 11.22), (77.0, 11.08), (78.36, 11.03),
           (79.71, 10.95), (81.07, 10.81), (82.42, 10.81), (83.91, 10.68)]

HIRA_40 = [(0.41, 9.46), (0.68, 9.73), (1.22, 9.4), (2.03, 9.46), (2.84, 9.32), (3.38, 9.46), (3.87, 9.86),
           (4.2, 9.59), (4.74, 9.46), (5.42, 9.73), (6.09, 9.46), (6.9, 9.4), (7.31, 9.86), (7.72, 9.59),
           (8.53, 9.46), (9.34, 9.59), (9.88, 9.73), (10.42, 9.46), (11.51, 9.4), (12.59, 9.46), (13.4, 9.73),
           (13.95, 10.27), (14.22, 10.0), (14.76, 9.73), (15.3, 9.46), (15.84, 9.73), (15.98, 12.97), (16.11, 16.22),
           (16.25, 12.97), (16.52, 10.0), (16.92, 9.32), (17.47, 9.05), (17.87, 8.92), (18.14, 9.46), (18.55, 9.73),
           (19.09, 9.46), (19.63, 9.32), (20.71, 9.59), (21.26, 9.86), (21.8, 9.46), (22.34, 9.32), (23.42, 9.59),
           (23.96, 10.0), (24.23, 11.76), (24.45, 11.22), (24.78, 10.0), (25.05, 9.32), (25.59, 9.19), (26.1, 9.73),
           (26.4, 13.5), (26.65, 17.16), (26.9, 17.16), (27.05, 16.0), (27.19, 11.22), (27.46, 9.73), (27.73, 9.19),
           (28.27, 9.05), (28.81, 9.19), (29.35, 9.4), (29.89, 9.46), (30.43, 9.59), (30.98, 9.73), (31.52, 9.86),
           (32.06, 10.0), (32.6, 10.14), (33.14, 10.27), (33.55, 10.81), (33.82, 15.14), (33.95, 12.0),
           (34.22, 11.35), (34.49, 10.54), (35.03, 10.0), (35.58, 9.86), (36.12, 10.0), (36.66, 10.27),
           (37.2, 10.14), (38.01, 9.73), (38.83, 9.59), (39.64, 9.86), (40.18, 10.27), (40.45, 10.81),
           (40.72, 11.89), (40.99, 10.54), (41.26, 14.32), (41.39, 14.86), (41.53, 14.59), (41.67, 13.78),
           (41.94, 10.81), (42.21, 9.73), (42.61, 9.46), (43.42, 9.59), (44.24, 10.27), (44.78, 9.73),
           (45.59, 10.27), (46.13, 11.89), (46.4, 11.22), (46.94, 10.27), (47.48, 10.54), (48.03, 10.0),
           (48.57, 9.46), (48.84, 9.73), (49.38, 10.0), (49.92, 10.81), (50.33, 10.54), (50.73, 9.73),
           (51.27, 9.46), (51.81, 9.73), (52.36, 9.59), (52.9, 9.73), (53.71, 10.54), (53.98, 10.95),
           (54.25, 10.54), (55.06, 10.27), (55.33, 9.59), (56.14, 9.46), (56.96, 9.73), (57.49, 10.27),
           (57.76, 11.35), (58.03, 12.16), (58.3, 12.97), (58.85, 13.24), (59.12, 11.89), (59.25, 9.73),
           (59.66, 9.46), (60.2, 9.59), (60.74, 9.46), (61.15, 9.59), (61.42, 12.7), (61.83, 12.84), (62.37, 12.7),
           (62.91, 12.57), (63.45, 12.16), (63.72, 11.89), (63.99, 10.27), (64.27, 8.92), (64.81, 8.92),
           (65.62, 9.05), (66.16, 9.19), (66.7, 9.32), (67.25, 10.41), (67.79, 10.81), (68.33, 10.41),
           (68.87, 10.27), (69.41, 10.0), (69.96, 9.73), (70.5, 9.73), (71.58, 9.73), (71.85, 11.89),
           (72.12, 11.76), (72.67, 11.76), (72.94, 10.54), (73.21, 10.14), (73.75, 10.14), (74.29, 10.27),
           (74.56, 10.81), (74.84, 11.62), (75.38, 11.22), (75.92, 11.22), (76.46, 11.08), (77.0, 10.81),
           (77.54, 10.54), (78.09, 10.81), (78.63, 10.68), (79.17, 10.81), (79.71, 10.68), (80.53, 10.81),
           (81.07, 10.0), (81.47, 9.73), (81.88, 10.27), (82.42, 10.41), (82.69, 10.68), (83.24, 10.81),
           (83.91, 10.54)]

HIRA_50 = [(0.41, 8.78), (1.22, 8.72), (2.3, 8.65), (3.87, 8.78), (4.74, 8.65), (6.09, 8.6), (7.31, 8.65),
           (8.53, 8.65), (9.88, 8.7), (10.97, 8.65), (12.32, 8.7), (13.54, 8.78), (14.08, 8.92), (14.89, 8.78),
           (15.84, 8.92), (16.11, 9.32), (16.38, 8.92), (16.92, 8.51), (17.74, 8.43), (18.28, 8.65), (19.63, 8.65),
           (21.26, 8.7), (22.61, 8.65), (23.69, 8.78), (24.23, 9.19), (24.64, 8.92), (25.05, 8.65), (25.59, 8.51),
           (26.1, 8.92), (26.9, 9.59), (27.19, 9.19), (27.73, 8.65), (28.54, 8.65), (29.89, 8.78), (31.25, 8.92),
           (32.6, 9.19), (33.41, 9.32), (33.82, 10.41), (34.09, 9.46), (34.49, 8.78), (35.3, 8.65), (36.66, 8.65),
           (38.0, 8.78), (39.9, 8.92), (40.7, 9.05), (41.12, 9.05), (41.39, 9.59), (41.8, 9.05), (42.34, 8.65),
           (43.42, 8.65), (44.78, 8.92), (46.13, 8.97), (46.67, 8.78), (47.75, 8.92), (48.84, 8.78), (50.19, 8.97),
           (51.54, 8.92), (52.9, 8.78), (53.71, 9.19), (54.25, 9.32), (54.79, 9.05), (55.6, 8.65), (56.96, 8.65),
           (57.49, 8.92), (58.03, 9.32), (58.57, 9.38), (58.85, 9.05), (59.12, 8.92), (60.74, 8.78), (61.42, 8.92),
           (61.69, 12.43), (61.83, 8.92), (62.37, 9.19), (62.64, 11.76), (62.91, 11.62), (63.05, 9.19),
           (63.18, 8.78), (63.99, 8.65), (66.16, 8.7), (67.52, 8.78), (68.87, 8.92), (70.5, 8.92), (71.58, 9.19),
           (72.12, 10.0), (72.67, 8.92), (73.75, 8.78), (74.29, 8.92), (74.84, 11.35), (75.38, 11.22),
           (75.92, 10.81), (76.19, 9.73), (76.46, 9.05), (77.0, 8.92), (77.27, 9.73), (77.82, 9.19), (78.36, 8.78),
           (79.71, 8.92), (81.07, 9.05), (81.88, 8.92), (82.69, 9.05), (83.24, 9.19), (83.51, 10.27),
           (83.91, 10.0)]

# Observation periods highlighted on both temperature panels
EVENTS = [("2016-10-28 08:40", "2016-10-31 23:30"),
          ("2016-11-06 00:45", "2016-11-10 12:45"),
          ("2016-11-16 21:40", "2016-11-23 05:30")]

WIND_SERIES = [("IMAZU", IMAZU, "#ED7D31"), ("NAGAHAMA", NAGAHAMA, "#FFC000"), ("HIKONE", HIKONE, "#70AD47")]

IMAZU_SERIES = [("0.5", IMZ_05, "#D3DEF0"), ("5", IMZ_5, "#C0D2EC"), ("10", IMZ_10, "#A6BFE6"),
                ("15", IMZ_15, "#8DB0E0"), ("20", IMZ_20, "#92D050"), ("30", IMZ_30, "#FFC000"),
                ("40", IMZ_40, "#00B050"), ("60", IMZ_60, "#4275B2"), ("70", IMZ_70, "#36639A"),
                ("80", IMZ_80, "#2A4E7D")]

HIRA_SERIES = [("5", HIRA_5, "#CBD8EF"), ("10", HIRA_10, "#AEC4E8"), ("15", HIRA_15, "#8DB0E0"),
               ("20", HIRA_20, "#92D050"), ("30", HIRA_30, "#FFC000"), ("40", HIRA_40, "#00B050"),
               ("50", HIRA_50, "#305E93")]


def to_dates(days):
    return [START + pd.Timedelta(days=float(d)) for d in days]


def fx(x):
    return x / W


def fy(y):
    return 1 - y / H


fig = go.Figure()


def add_series(pairs, color, width, xa, ya, name):
    t, v = zip(*pairs)
    fig.add_trace(go.Scatter(x=to_dates(t), y=list(v), mode="lines", name=name,
                             line=dict(color=color, width=width), xaxis=xa, yaxis=ya,
                             showlegend=False, hoverinfo="skip"))


for name, pairs, color in WIND_SERIES:
    add_series(pairs, color, 1.8, "x", "y", name)
for name, pairs, color in IMAZU_SERIES:
    add_series(pairs, color, 2.3, "x2", "y2", name)
for name, pairs, color in HIRA_SERIES:
    add_series(pairs, color, 2.3, "x3", "y3", name)

GRID = "#D9D9D9"
TICK_FONT = dict(family="Lato, sans-serif", size=15, color="#595959")
LABEL_FONT = "Noto Sans, sans-serif"
week_ticks = pd.date_range(START, END, freq="7D")
x_dom = [fx(158.3), fx(1194.2)]

x_common = dict(domain=x_dom, type="date", range=[START, END], tickvals=week_ticks, automargin=False,
                showgrid=True, gridcolor=GRID, gridwidth=1, zeroline=False, showline=False)
y_common = dict(showgrid=True, gridcolor=GRID, gridwidth=1, zeroline=False, showline=False, automargin=False,
                tickfont=TICK_FONT, ticks="", ticklabelstandoff=12)

fig.update_layout(
    width=W, height=H, margin=dict(l=0, r=0, t=0, b=0, autoexpand=False),
    paper_bgcolor="white", plot_bgcolor="white",
    xaxis=dict(**x_common, anchor="y", showticklabels=False),
    xaxis2=dict(**x_common, anchor="y2", showticklabels=False),
    xaxis3=dict(**x_common, anchor="y3", showticklabels=True, tickformat="%Y/%-m/%-d",
                tickfont=dict(family="Lato, sans-serif", size=14, color="#595959"),
                ticks="outside", ticklen=6, tickcolor=GRID),
    yaxis=dict(**y_common, domain=[fy(146.7), fy(16)], range=[150, 0], tickvals=[0, 30, 60, 90, 120, 150],
               anchor="x"),
    yaxis2=dict(**y_common, domain=[fy(420), fy(176.7)], range=[5, 25], tickvals=[5, 10, 15, 20, 25],
                anchor="x2"),
    yaxis3=dict(**y_common, domain=[fy(683.3), fy(436.7)], range=[5, 25], tickvals=[5, 10, 15, 20, 25],
                anchor="x3"),
)

shapes = []
annotations = []

# Event boxes spanning both temperature panels
for t0, t1 in EVENTS:
    shapes.append(dict(type="rect", xref="x", yref="paper", x0=t0, x1=t1, y0=fy(684.5), y1=fy(177.5),
                       line=dict(color="#FF0000", width=2.5, dash="7px,3px"), fillcolor="rgba(0,0,0,0)",
                       layer="above"))


def legend_row(series, starts, y, font, line_len=22, line_w=2.5, gap=1):
    for (label, _, color), x0 in zip(series, starts):
        shapes.append(dict(type="line", xref="paper", yref="paper", x0=fx(x0), x1=fx(x0 + line_len),
                           y0=fy(y), y1=fy(y), line=dict(color=color, width=line_w)))
        annotations.append(dict(text=label, xref="paper", yref="paper", x=fx(x0 + line_len + gap), y=fy(y),
                                xanchor="left", yanchor="middle", showarrow=False, font=font))


legend_row(WIND_SERIES, [523, 635, 780], 134,
           dict(family=LABEL_FONT, size=16, color="#111111", weight="bold"), line_w=2.5, gap=7)
legend_row(IMAZU_SERIES, [715, 767, 807, 855, 903, 952, 1000, 1050, 1097, 1143], 193, TICK_FONT)
legend_row(HIRA_SERIES, [889, 925, 970, 1013, 1058, 1103, 1148], 450.5, TICK_FONT)


def text(s, x, y, size, bold=False, color="#111111", anchor="center"):
    annotations.append(dict(text=s, xref="paper", yref="paper", x=fx(x), y=fy(y), xanchor=anchor,
                            yanchor="middle", showarrow=False, align="center",
                            font=dict(family=LABEL_FONT, size=size, color=color,
                                      weight="bold" if bold else "normal")))


text("m<sup>2</sup>s<sup>-2</sup>", 95, 28, 21, bold=True)
text("wind<br>squared", 54, 104, 24)
text("WT", 60, 220, 27)
text("<sup>o</sup>C", 116, 207, 24)
text("off IMAZU", 1001, 223, 17)
text("WT", 67, 478, 27)
text("<sup>o</sup>C", 118, 465, 24)
text("off Minami-HIRA", 1014, 480, 17)

fig.update_layout(shapes=shapes, annotations=annotations)
fig.write_html("out.html")
